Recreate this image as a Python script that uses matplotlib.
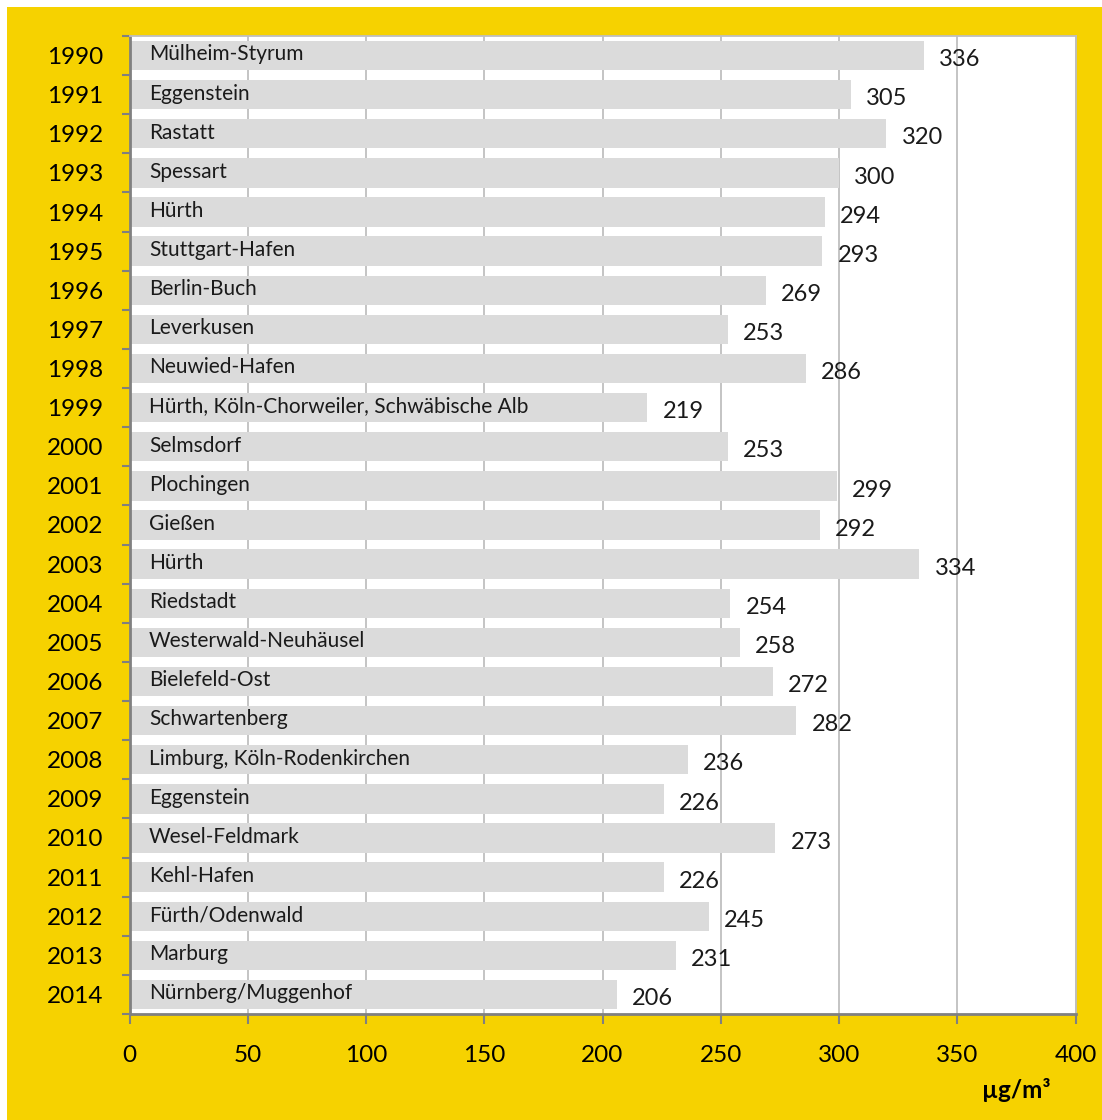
import matplotlib.pyplot as plt
from matplotlib.patches import Rectangle
from matplotlib.transforms import offset_copy

plt.rcParams['font.family'] = ['Lato', 'DejaVu Sans']

years = [str(y) for y in range(1990, 2015)]
stations = [
    "Mülheim-Styrum", "Eggenstein", "Rastatt", "Spessart", "Hürth",
    "Stuttgart-Hafen", "Berlin-Buch", "Leverkusen", "Neuwied-Hafen",
    "Hürth, Köln-Chorweiler, Schwäbische Alb", "Selmsdorf", "Plochingen",
    "Gießen", "Hürth", "Riedstadt", "Westerwald-Neuhäusel", "Bielefeld-Ost",
    "Schwartenberg", "Limburg, Köln-Rodenkirchen", "Eggenstein",
    "Wesel-Feldmark", "Kehl-Hafen", "Fürth/Odenwald", "Marburg",
    "Nürnberg/Muggenhof",
]
values = [336, 305, 320, 300, 294, 293, 269, 253, 286, 219, 253, 299, 292,
          334, 254, 258, 272, 282, 236, 226, 273, 226, 245, 231, 206]
xticks = [0, 50, 100, 150, 200, 250, 300, 350, 400]
unit = "µg/m³"

W, H = 1102, 1120
fig = plt.figure(figsize=(W / 100, H / 100), dpi=100)
fig.patches.append(Rectangle((7 / W, 0), 1, 1 - 7 / H, transform=fig.transFigure,
                             facecolor='#F6D200', edgecolor='none', zorder=-10))

ax = fig.add_axes([129.5 / W, 1 - 1014 / H, 946 / W, 978 / H])
ax.set_zorder(1)
ax.set_facecolor('white')

pos = list(range(len(years)))
ax.barh(pos, values, height=0.75, color='#DBDBDB', zorder=2)
ax.set_ylim(len(years) - 0.5, -0.5)
ax.set_xlim(0, 400)

# gridlines behind bars
ax.set_xticks(xticks)
ax.xaxis.grid(True, color='#BFBFBF', linewidth=1.3, zorder=1)
ax.set_axisbelow(True)

# year labels, ticks at category boundaries
ax.set_yticks(pos)
ax.set_yticklabels(years, fontsize=17.5)
ax.set_yticks([p - 0.5 for p in pos] + [len(years) - 0.5], minor=True)
ax.tick_params(axis='y', which='major', length=0, pad=19)
ax.tick_params(axis='y', which='minor', length=6, width=1.5, color='#808080', direction='out')
ax.tick_params(axis='x', length=7, width=1.5, color='#808080', pad=15, labelsize=17.5)

for s in ['left', 'bottom']:
    ax.spines[s].set_color('#808080')
    ax.spines[s].set_linewidth(2)
for s in ['top', 'right']:
    ax.spines[s].set_color('#BFBFBF')
    ax.spines[s].set_linewidth(1.3)

name_tr = offset_copy(ax.transData, fig=fig, x=14, y=0, units='points')
for p, name, v in zip(pos, stations, values):
    ax.text(0, p - 0.03, name, transform=name_tr, fontsize=15,
            va='center', ha='left', color='#1a1a1a', zorder=3)
    ax.annotate(str(v), (v, p), xytext=(11, -3), textcoords='offset points',
                fontsize=17, va='center', ha='left', color='#1a1a1a', zorder=3)

fig.text(1050 / W, 1 - 1090 / H, unit, fontsize=17.5, fontweight='bold',
         ha='right', va='center')

fig.savefig('out.png', dpi=100)
